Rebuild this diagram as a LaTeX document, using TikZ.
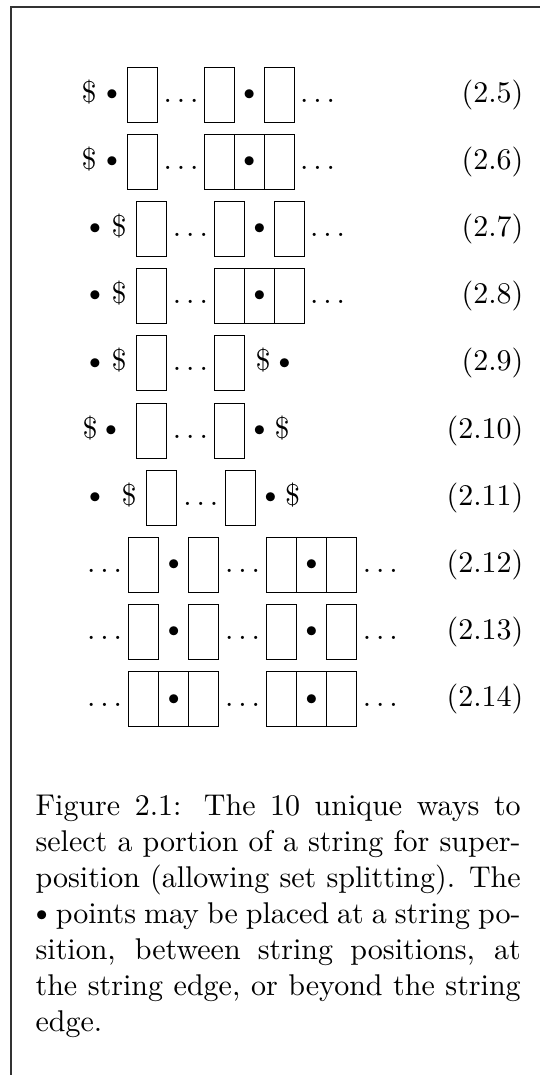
\documentclass[tikz,border=0pt]{standalone}
\newcommand\smallbul{$\vcenter{\hbox{$\scriptstyle\bullet$}}$}
\begin{document}
\begin{tikzpicture}[x=0.333333pt, y=-0.333333pt,
  cell/.style={draw=black, line width=0.33pt},
  sym/.style={inner sep=0pt, anchor=base},
  dot/.style={inner sep=0pt, anchor=center},
  lab/.style={inner sep=0pt, anchor=base east},
  frameline/.style={draw=black!80, line width=0.4pt}]
\useasboundingbox (0,0) rectangle (540,1075);
% frame
\draw[frameline] (11,1075) -- (11,7) -- (540,7);

% ---- row 2.5  (centre y 94.5, baseline 102)
\node[sym] (d0a) at (89,102) {\$};
\node[dot] (p0a) at (112,94.5) {$\scriptstyle\bullet$};
\draw[cell] (127,67) rectangle (157,122);
\node[sym] (e0a) at (181,102) {$\ldots$};
\draw[cell] (204.6,67) rectangle (234.6,122);
\node[dot] (p0b) at (249.3,94.5) {$\scriptstyle\bullet$};
\draw[cell] (264,67) rectangle (294,122);
\node[sym] (e0b) at (317.5,102) {$\ldots$};
\node[lab] (l0) at (524,102) {(2.5)};

% ---- row 2.6  (centre 161.7, baseline 169.2)
\node[sym] (d1a) at (89,169.2) {\$};
\node[dot] (p1a) at (112,161.7) {$\scriptstyle\bullet$};
\draw[cell] (127,134.2) rectangle (157,189.2);
\node[sym] (e1a) at (181,169.2) {$\ldots$};
\draw[cell] (204.6,134.2) rectangle (234.6,189.2);
\draw[cell] (234.6,134.2) rectangle (264,189.2);
\draw[cell] (264,134.2) rectangle (294,189.2);
\node[dot] (p1b) at (249.3,161.7) {$\scriptstyle\bullet$};
\node[sym] (e1b) at (317.5,169.2) {$\ldots$};
\node[lab] (l1) at (524,169.2) {(2.6)};

% ---- row 2.7  (centre 228.9, baseline 236.4)
\node[dot] (p2a) at (95,228.9) {$\scriptstyle\bullet$};
\node[sym] (d2a) at (119,236.4) {\$};
\draw[cell] (136.4,201.4) rectangle (166.4,256.4);
\node[sym] (e2a) at (190.4,236.4) {$\ldots$};
\draw[cell] (214.9,201.4) rectangle (244.9,256.4);
\node[dot] (p2b) at (259.5,228.9) {$\scriptstyle\bullet$};
\draw[cell] (274.1,201.4) rectangle (304.1,256.4);
\node[sym] (e2b) at (327.6,236.4) {$\ldots$};
\node[lab] (l2) at (524,236.4) {(2.7)};

% ---- row 2.8  (centre 296.1, baseline 303.6)
\node[dot] (p3a) at (95,296.1) {$\scriptstyle\bullet$};
\node[sym] (d3a) at (119,303.6) {\$};
\draw[cell] (136.4,268.6) rectangle (166.4,323.6);
\node[sym] (e3a) at (190.4,303.6) {$\ldots$};
\draw[cell] (214.9,268.6) rectangle (244.9,323.6);
\draw[cell] (244.9,268.6) rectangle (274.1,323.6);
\draw[cell] (274.1,268.6) rectangle (304.1,323.6);
\node[dot] (p3b) at (259.5,296.1) {$\scriptstyle\bullet$};
\node[sym] (e3b) at (327.6,303.6) {$\ldots$};
\node[lab] (l3) at (524,303.6) {(2.8)};

% ---- row 2.9  (centre 363.3, baseline 370.8)
\node[dot] (p4a) at (95,363.3) {$\scriptstyle\bullet$};
\node[sym] (d4a) at (119,370.8) {\$};
\draw[cell] (136.4,335.8) rectangle (166.4,390.8);
\node[sym] (e4a) at (190.4,370.8) {$\ldots$};
\draw[cell] (214.9,335.8) rectangle (244.9,390.8);
\node[sym] (d4b) at (263,370.8) {\$};
\node[dot] (p4b) at (284.5,363.3) {$\scriptstyle\bullet$};
\node[lab] (l4) at (524,370.8) {(2.9)};

% ---- row 2.10  (centre 430.5, baseline 438)
\node[sym] (d5a) at (90,438) {\$};
\node[dot] (p5a) at (111,430.5) {$\scriptstyle\bullet$};
\draw[cell] (136.4,403) rectangle (166.4,458);
\node[sym] (e5a) at (190.4,438) {$\ldots$};
\draw[cell] (214.9,403) rectangle (244.9,458);
\node[dot] (p5b) at (259.5,430.5) {$\scriptstyle\bullet$};
\node[sym] (d5b) at (282,438) {\$};
\node[lab] (l5) at (524,438) {(2.10)};

% ---- row 2.11  (centre 497.7, baseline 505.2)
\node[dot] (p6a) at (95,497.7) {$\scriptstyle\bullet$};
\node[sym] (d6a) at (129,505.2) {\$};
\draw[cell] (146.7,470.2) rectangle (176.7,525.2);
\node[sym] (e6a) at (200.8,505.2) {$\ldots$};
\draw[cell] (225.1,470.2) rectangle (255.1,525.2);
\node[dot] (p6b) at (270.4,497.7) {$\scriptstyle\bullet$};
\node[sym] (d6b) at (292.5,505.2) {\$};
\node[lab] (l6) at (524,505.2) {(2.11)};

% ---- row 2.12  (centre 564.9, baseline 572.4)
\node[sym] (e7a) at (104.6,572.4) {$\ldots$};
\draw[cell] (128.8,537.4) rectangle (158.8,592.4);
\node[dot] (p7a) at (173.7,564.9) {$\scriptstyle\bullet$};
\draw[cell] (188.5,537.4) rectangle (218.5,592.4);
\node[sym] (e7b) at (242.5,572.4) {$\ldots$};
\draw[cell] (266.6,537.4) rectangle (296.6,592.4);
\draw[cell] (296.6,537.4) rectangle (326.2,592.4);
\draw[cell] (326.2,537.4) rectangle (356.2,592.4);
\node[dot] (p7b) at (311.4,564.9) {$\scriptstyle\bullet$};
\node[sym] (e7c) at (380.3,572.4) {$\ldots$};
\node[lab] (l7) at (524,572.4) {(2.12)};

% ---- row 2.13  (centre 632.1, baseline 639.6)
\node[sym] (e8a) at (104.6,639.6) {$\ldots$};
\draw[cell] (128.8,604.6) rectangle (158.8,659.6);
\node[dot] (p8a) at (173.7,632.1) {$\scriptstyle\bullet$};
\draw[cell] (188.5,604.6) rectangle (218.5,659.6);
\node[sym] (e8b) at (242.5,639.6) {$\ldots$};
\draw[cell] (266.6,604.6) rectangle (296.6,659.6);
\node[dot] (p8b) at (311.4,632.1) {$\scriptstyle\bullet$};
\draw[cell] (326.2,604.6) rectangle (356.2,659.6);
\node[sym] (e8c) at (380.3,639.6) {$\ldots$};
\node[lab] (l8) at (524,639.6) {(2.13)};

% ---- row 2.14  (centre 699.3, baseline 706.8)
\node[sym] (e9a) at (104.6,706.8) {$\ldots$};
\draw[cell] (128.8,671.8) rectangle (158.8,726.8);
\draw[cell] (158.8,671.8) rectangle (188.5,726.8);
\draw[cell] (188.5,671.8) rectangle (218.5,726.8);
\node[dot] (p9a) at (173.7,699.3) {$\scriptstyle\bullet$};
\node[sym] (e9b) at (242.5,706.8) {$\ldots$};
\draw[cell] (266.6,671.8) rectangle (296.6,726.8);
\draw[cell] (296.6,671.8) rectangle (326.2,726.8);
\draw[cell] (326.2,671.8) rectangle (356.2,726.8);
\node[dot] (p9b) at (311.4,699.3) {$\scriptstyle\bullet$};
\node[sym] (e9c) at (380.3,706.8) {$\ldots$};
\node[lab] (l9) at (524,706.8) {(2.14)};

% ---- caption
\node[inner sep=0pt, anchor=base west] (cap) at (35,815) {\parbox[t]{161.7pt}{%
Figure 2.1: The 10 unique ways to\linebreak
select a portion of a string for super-\linebreak
position (allowing set splitting). The\linebreak
\smallbul{} points may be placed at a string po-\linebreak
sition, between string positions, at\linebreak
the string edge, or beyond the string\linebreak
edge.}};
\end{tikzpicture}
\end{document}
